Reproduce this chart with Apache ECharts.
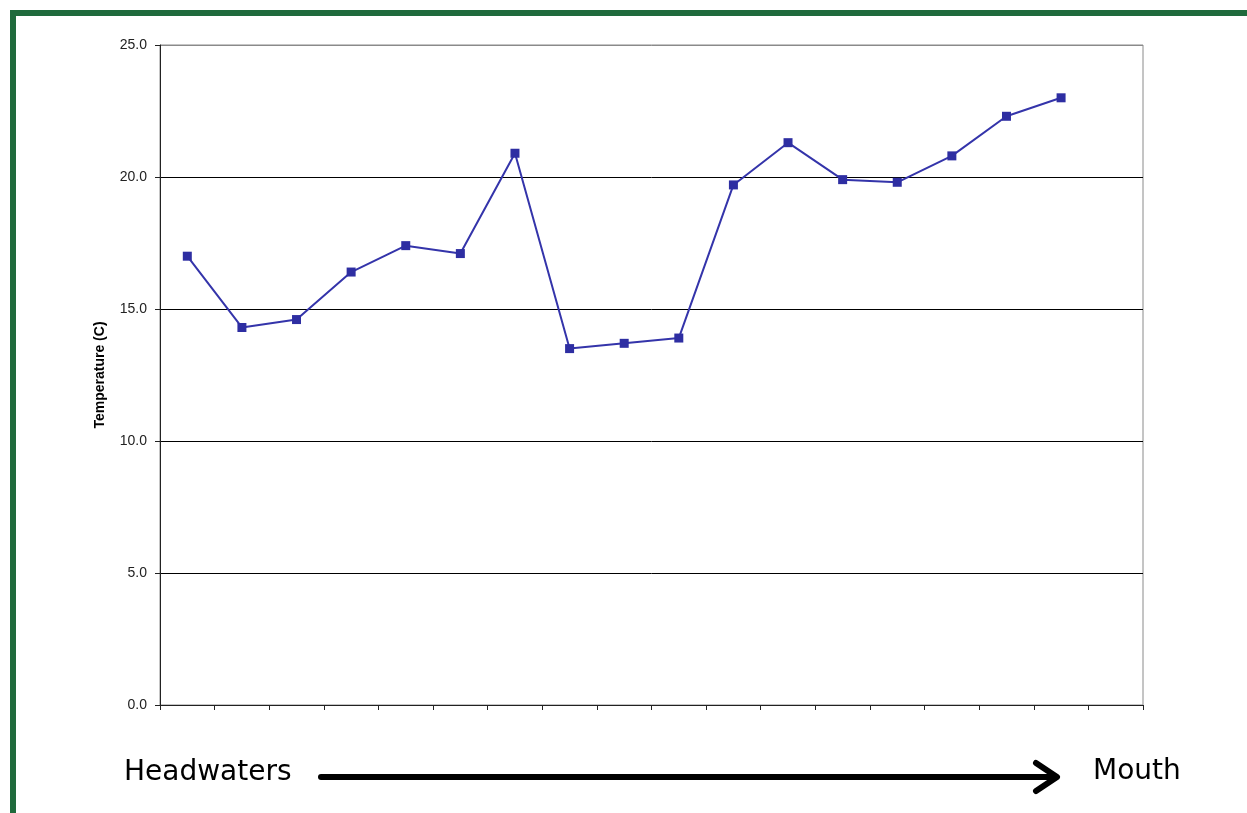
<!DOCTYPE html>
<html>
<head>
<meta charset="utf-8">
<script src="https://cdn.jsdelivr.net/npm/echarts@6/dist/echarts.min.js"></script>
<style>
html,body{margin:0;padding:0;background:#fff;}
#chart{width:1247px;height:813px;}
</style>
</head>
<body>
<div id="chart"></div>
<script>
var categories = ['1','2','3','4','5','6','7','8','9','10','11','12','13','14','15','16','17','18'];
var temperature = [17.0, 14.3, 14.6, 16.4, 17.4, 17.1, 20.9, 13.5, 13.7, 13.9, 19.7, 21.3, 19.9, 19.8, 20.8, 22.3, 23.0, null];
var yTicks = [0, 5, 10, 15, 20, 25];

var chart = echarts.init(document.getElementById('chart'), null, {renderer: 'canvas'});
chart.setOption({
  animation: false,
  backgroundColor: '#ffffff',
  grid: {left: 160, top: 45, right: 104, bottom: 108, show: true, borderColor: '#8a8a8a', borderWidth: 1, backgroundColor: 'transparent'},
  xAxis: {
    type: 'category',
    data: categories,
    boundaryGap: true,
    axisLine: {show: true, lineStyle: {color: '#222', width: 1}},
    axisTick: {show: true, alignWithLabel: false, length: 5, lineStyle: {color: '#222'}},
    axisLabel: {show: false},
    splitLine: {show: false}
  },
  yAxis: {
    type: 'value',
    min: yTicks[0],
    max: yTicks[yTicks.length - 1],
    interval: 5,
    name: 'Temperature (C)',
    nameLocation: 'middle',
    nameGap: 53,
    nameRotate: 90,
    nameTextStyle: {fontFamily: 'Liberation Sans, Arial, sans-serif', fontWeight: 'bold', fontSize: 14, color: '#000'},
    axisLine: {show: true, lineStyle: {color: '#222', width: 1}},
    axisTick: {show: true, length: 5, lineStyle: {color: '#222'}},
    axisLabel: {
      fontFamily: 'Liberation Sans, Arial, sans-serif',
      fontSize: 14,
      color: '#222',
      margin: 13,
      formatter: function (v) { return v.toFixed(1); }
    },
    splitLine: {show: true, lineStyle: {color: ['#000', '#000', '#000', '#000', '#000', '#8a8a8a'], width: 1}}
  },
  series: [{
    type: 'line',
    data: temperature,
    symbol: 'rect',
    symbolSize: 9,
    connectNulls: false,
    lineStyle: {color: '#3434aa', width: 2},
    itemStyle: {color: '#2e2ea2'}
  }],
  graphic: [
    {type: 'rect', shape: {x: 10, y: 10, width: 1237, height: 6}, style: {fill: '#1f6a3c'}, silent: true},
    {type: 'rect', shape: {x: 10, y: 10, width: 6, height: 803}, style: {fill: '#1f6a3c'}, silent: true},
    {type: 'text', style: {x: 124, y: 773, text: 'Headwaters', font: '28px "DejaVu Sans", sans-serif', fill: '#000', verticalAlign: 'middle', align: 'left'}},
    {type: 'text', style: {x: 1093, y: 772, text: 'Mouth', font: '28px "DejaVu Sans", sans-serif', fill: '#000', verticalAlign: 'middle', align: 'left'}},
    {type: 'polyline', shape: {points: [[321, 777], [1054, 777]]}, style: {stroke: '#000', lineWidth: 6, lineCap: 'round'}},
    {type: 'polyline', shape: {points: [[1036, 763], [1057, 777], [1036, 791]]}, style: {stroke: '#000', lineWidth: 6, lineCap: 'round', lineJoin: 'round', fill: null}}
  ]
});
</script>
</body>
</html>
